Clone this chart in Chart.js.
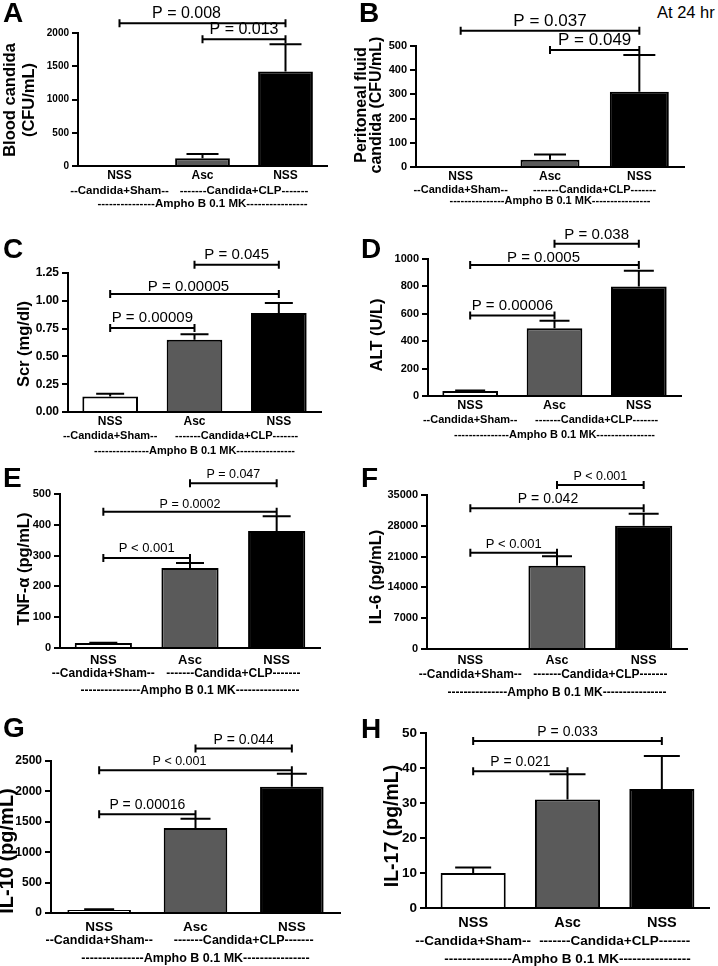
<!DOCTYPE html>
<html>
<head>
<meta charset="utf-8">
<title>Candida / Ampho B panels</title>
<script src="https://cdn.jsdelivr.net/npm/chart.js@4.4.1/dist/chart.umd.min.js"></script>
<style>
  body { margin: 0; background: #fff; }
  #fig { position: relative; width: 718px; height: 966px; overflow: hidden; font-family: "Liberation Sans", Arial, sans-serif; }
  #fig canvas { position: absolute; }
  .note { position: absolute; left: 657px; top: 4px; font-size: 16.5px; line-height: 1; color: #000; }
</style>
</head>
<body>
<div id="fig">
  <div class="note">At 24 hr</div>
</div>
<script>
const categories = ["NSS", "Asc", "NSS"];
const groupLabels = ["--Candida+Sham--", "-------Candida+CLP-------"];
const amphoLabel = "---------------Ampho B 0.1 MK----------------";
const barColors = ["#ffffff", "#5a5a5a", "#000000"];

// A - blood candida
const bloodMean = [0, 115, 1420];
const bloodSem = [0, 65, 410];
const bloodTicks = [0, 500, 1000, 1500, 2000];
const bloodP = [
  { from: 0, to: 2, at: 2146, text: "P = 0.008", tx: -16 },
  { from: 1, to: 2, at: 1905, text: "P = 0.013" },
];

// B - peritoneal fluid candida
const pfMean = [0, 30, 311];
const pfSem = [0, 22, 152];
const pfTicks = [0, 100, 200, 300, 400, 500];
const pfP = [
  { from: 0, to: 2, at: 563, text: "P = 0.037" },
  { from: 1, to: 2, at: 483, text: "P = 0.049" },
];

// C - serum creatinine
const scrMean = [0.14, 0.65, 0.89];
const scrSem = [0.025, 0.05, 0.09];
const scrTicks = [0, 0.25, 0.5, 0.75, 1.0, 1.25];
const scrP = [
  { from: 1, to: 2, at: 1.325, text: "P = 0.045", gap: 6 },
  { from: 0, to: 2, at: 1.061, text: "P = 0.00005", tx: -6, gap: 3 },
  { from: 0, to: 1, at: 0.755, text: "P = 0.00009", gap: 6 },
];

// D - ALT
const altMean = [37, 495, 800];
const altSem = [3, 55, 115];
const altTicks = [0, 200, 400, 600, 800, 1000];
const altP = [
  { from: 1, to: 2, at: 1112, text: "P = 0.038" },
  { from: 0, to: 2, at: 956, text: "P = 0.0005", tx: -11, gap: 3 },
  { from: 0, to: 1, at: 588, text: "P = 0.00006" },
];

// E - TNF-alpha
const tnfMean = [16, 260, 380];
const tnfSem = [1, 16, 48];
const tnfTicks = [0, 100, 200, 300, 400, 500];
const tnfP = [
  { from: 1, to: 2, at: 535, text: "P = 0.047" },
  { from: 0, to: 2, at: 442, text: "P = 0.0002", gap: 4 },
  { from: 0, to: 1, at: 292, text: "P < 0.001", size: 13, gap: 6 },
];

// F - IL-6
const il6Mean = [0, 18900, 28000];
const il6Sem = [0, 2200, 2750];
const il6Ticks = [0, 7000, 14000, 21000, 28000, 35000];
const il6P = [
  { from: 1, to: 2, at: 37270, text: "P < 0.001", size: 12.5 },
  { from: 0, to: 2, at: 31980, text: "P = 0.042", tx: -9 },
  { from: 0, to: 1, at: 21890, text: "P < 0.001", size: 13 },
];

// G - IL-10
const il10Mean = [50, 1400, 2075];
const il10Sem = [10, 150, 215];
const il10Ticks = [0, 500, 1000, 1500, 2000, 2500];
const il10P = [
  { from: 1, to: 2, at: 2704, text: "P = 0.044" },
  { from: 0, to: 2, at: 2347, text: "P < 0.001", size: 12.5, tx: -16 },
  { from: 0, to: 1, at: 1623, text: "P = 0.00016" },
];

// H - IL-17
const il17Mean = [10, 31, 34];
const il17Sem = [1.6, 7.2, 9.4];
const il17Ticks = [0, 10, 20, 30, 40, 50];
const il17P = [
  { from: 0, to: 2, at: 47.7, text: "P = 0.033" },
  { from: 0, to: 1, at: 39.1, text: "P = 0.021" },
];

const FONT = '"Liberation Sans", Arial, sans-serif';

// panel layout: canvas box [left, top, w, h], plot area inside canvas {l,t,r,b}
const panels = [
  { letter: "A", lx: 3, ly: 22, box: [0, 0, 359, 222], area: { l: 78, t: 33, r: 327, b: 166 },
    mean: bloodMean, sem: bloodSem, ticks: bloodTicks, dec: 0, p: bloodP,
    title: ["Blood candida", "(CFU/mL)"], tpos: [10, 100], tsize: 16.5, tlh: 19,
    tickSize: 10, catSize: 12, catOff: 10, grpSize: 11.5, l2: 25, l3: 38, pSize: 16, cap: 32 },
  { letter: "B", lx: 19, ly: 22, box: [340, 0, 378, 222], area: { l: 76, t: 46, r: 344, b: 167 },
    mean: pfMean, sem: pfSem, ticks: pfTicks, dec: 0, p: pfP,
    title: ["Peritoneal fluid", "candida (CFU/mL)"], tpos: [22, 105], tsize: 16, tlh: 15,
    tickSize: 11, catSize: 12, catOff: 10, grpSize: 11, l2: 23, l3: 34, pSize: 17, cap: 32 },
  { letter: "C", lx: 3, ly: 36, box: [0, 222, 359, 240], area: { l: 68, t: 51, r: 321, b: 190 },
    mean: scrMean, sem: scrSem, ticks: scrTicks, dec: 2, p: scrP,
    title: ["Scr (mg/dl)"], tpos: [24, 122], tsize: 16.5, tlh: 19,
    tickSize: 12, catSize: 12, catOff: 10, grpSize: 11, l2: 24, l3: 39, pSize: 15, cap: 28 },
  { letter: "D", lx: 2, ly: 36, box: [359, 222, 359, 240], area: { l: 69, t: 37, r: 322, b: 174 },
    mean: altMean, sem: altSem, ticks: altTicks, dec: 0, p: altP,
    title: ["ALT (U/L)"], tpos: [18, 113], tsize: 16.5, tlh: 19,
    tickSize: 11, catSize: 12.5, catOff: 10, grpSize: 11, l2: 24, l3: 39, pSize: 15, cap: 30 },
  { letter: "E", lx: 3, ly: 25, box: [0, 462, 359, 250], area: { l: 60, t: 32, r: 320, b: 186 },
    mean: tnfMean, sem: tnfSem, ticks: tnfTicks, dec: 0, p: tnfP,
    title: ["TNF-\u03b1 (pg/mL)"], tpos: [24, 107], tsize: 16.5, tlh: 19,
    tickSize: 11, catSize: 13, catOff: 12, grpSize: 12, l2: 26, l3: 43, pSize: 12.5, cap: 28 },
  { letter: "F", lx: 2, ly: 25, box: [359, 462, 359, 250], area: { l: 68, t: 33, r: 328, b: 187 },
    mean: il6Mean, sem: il6Sem, ticks: il6Ticks, dec: 0, p: il6P,
    title: ["IL-6 (pg/mL)"], tpos: [17.5, 115], tsize: 16.5, tlh: 19,
    tickSize: 11, catSize: 12.5, catOff: 12, grpSize: 12, l2: 26, l3: 44, pSize: 14, cap: 30 },
  { letter: "G", lx: 3, ly: 25, box: [0, 712, 359, 254], area: { l: 51, t: 49, r: 340, b: 201 },
    mean: il10Mean, sem: il10Sem, ticks: il10Ticks, dec: 0, p: il10P,
    title: ["IL-10 (pg/mL)"], tpos: [7, 139], tsize: 20, tlh: 20,
    tickSize: 12, catSize: 13.5, catOff: 14, grpSize: 12.5, l2: 28, l3: 46, pSize: 14, cap: 30 },
  { letter: "H", lx: 2, ly: 26, box: [359, 712, 359, 254], area: { l: 67, t: 21, r: 350, b: 196 },
    mean: il17Mean, sem: il17Sem, ticks: il17Ticks, dec: 0, p: il17P, barPct: 0.69,
    title: ["IL-17 (pg/mL)"], tpos: [34, 114], tsize: 19.5, tlh: 20,
    tickSize: 13.5, catSize: 14.5, catOff: 15, grpSize: 13.5, l2: 33, l3: 51, pSize: 14, cap: 36 },
];

// error bars, significance brackets, group captions, axis title, panel letter
const annot = {
  id: "annot",
  afterDatasetsDraw(chart, args, o) {
    const ctx = chart.ctx;
    const ys = chart.scales.y;
    const bars = chart.getDatasetMeta(0).data;
    const base = chart.chartArea.bottom;
    ctx.save();
    ctx.strokeStyle = "#000";
    ctx.fillStyle = "#000";
    ctx.lineWidth = 2;

    o.mean.forEach((m, i) => {
      if (!o.sem[i]) return;
      const x = bars[i].x;
      const y0 = ys.getPixelForValue(m);
      const y1 = ys.getPixelForValue(m + o.sem[i]);
      ctx.beginPath();
      ctx.moveTo(x, y0);
      ctx.lineTo(x, y1);
      ctx.moveTo(x - o.cap / 2, y1);
      ctx.lineTo(x + o.cap / 2, y1);
      ctx.stroke();
    });

    ctx.textAlign = "center";
    ctx.textBaseline = "alphabetic";
    o.p.forEach((b) => {
      const x1 = bars[b.from].x;
      const x2 = bars[b.to].x;
      const yy = ys.getPixelForValue(b.at);
      ctx.beginPath();
      ctx.moveTo(x1, yy);
      ctx.lineTo(x2, yy);
      ctx.moveTo(x1, yy - 4);
      ctx.lineTo(x1, yy + 4);
      ctx.moveTo(x2, yy - 4);
      ctx.lineTo(x2, yy + 4);
      ctx.stroke();
      ctx.font = `${b.size || o.pSize}px ${FONT}`;
      ctx.fillText(b.text, (x1 + x2) / 2 + (b.tx || 0), yy - (b.gap || 5));
    });

    ctx.font = `bold ${o.grpSize}px ${FONT}`;
    ctx.textBaseline = "middle";
    ctx.fillText(groupLabels[0], bars[0].x, base + o.l2);
    ctx.fillText(groupLabels[1], (bars[1].x + bars[2].x) / 2, base + o.l2);
    ctx.fillText(amphoLabel, bars[1].x, base + o.l3);

    ctx.save();
    ctx.translate(o.tpos[0], o.tpos[1]);
    ctx.rotate(-Math.PI / 2);
    ctx.font = `bold ${o.tsize}px ${FONT}`;
    o.title.forEach((t, i) => ctx.fillText(t, 0, i * o.tlh));
    ctx.restore();

    ctx.font = `bold 28px ${FONT}`;
    ctx.textAlign = "left";
    ctx.textBaseline = "alphabetic";
    ctx.fillText(o.letter, o.lx, o.ly);
    ctx.restore();
  },
};

const fig = document.getElementById("fig");

panels.forEach((p) => {
  const [left, top, w, h] = p.box;
  const cv = document.createElement("canvas");
  cv.width = w;
  cv.height = h;
  cv.style.left = left + "px";
  cv.style.top = top + "px";
  cv.style.width = w + "px";
  cv.style.height = h + "px";
  fig.appendChild(cv);

  new Chart(cv.getContext("2d"), {
    type: "bar",
    data: {
      labels: categories,
      datasets: [
        {
          data: p.mean,
          backgroundColor: barColors,
          borderColor: "#000",
          borderWidth: 2,
          barPercentage: p.barPct || 0.66,
          categoryPercentage: 1,
        },
      ],
    },
    options: {
      responsive: false,
      animation: false,
      layout: { padding: { left: 0, top: p.area.t, right: w - p.area.r, bottom: 0 } },
      scales: {
        x: {
          offset: true,
          grid: { display: false, drawTicks: false },
          border: { color: "#000", width: 2 },
          ticks: {
            color: "#000",
            autoSkip: false,
            maxRotation: 0,
            padding: p.catOff - p.catSize / 2,
            font: { family: FONT, weight: "bold", size: p.catSize, lineHeight: 1 },
          },
          afterFit: (s) => { s.height = h - p.area.b; },
        },
        y: {
          min: 0,
          max: p.ticks[p.ticks.length - 1],
          grid: { drawOnChartArea: false, drawTicks: true, tickLength: 6, color: "#000", lineWidth: 2 },
          border: { color: "#000", width: 2 },
          ticks: {
            color: "#000",
            padding: 3,
            font: { family: FONT, weight: "bold", size: p.tickSize },
            callback: (v) => Number(v).toFixed(p.dec),
          },
          afterBuildTicks: (s) => { s.ticks = p.ticks.map((v) => ({ value: v })); },
          afterFit: (s) => { s.width = p.area.l; },
        },
      },
      plugins: {
        legend: { display: false },
        tooltip: { enabled: false },
        annot: p,
      },
    },
    plugins: [annot],
  });
});
</script>
</body>
</html>
